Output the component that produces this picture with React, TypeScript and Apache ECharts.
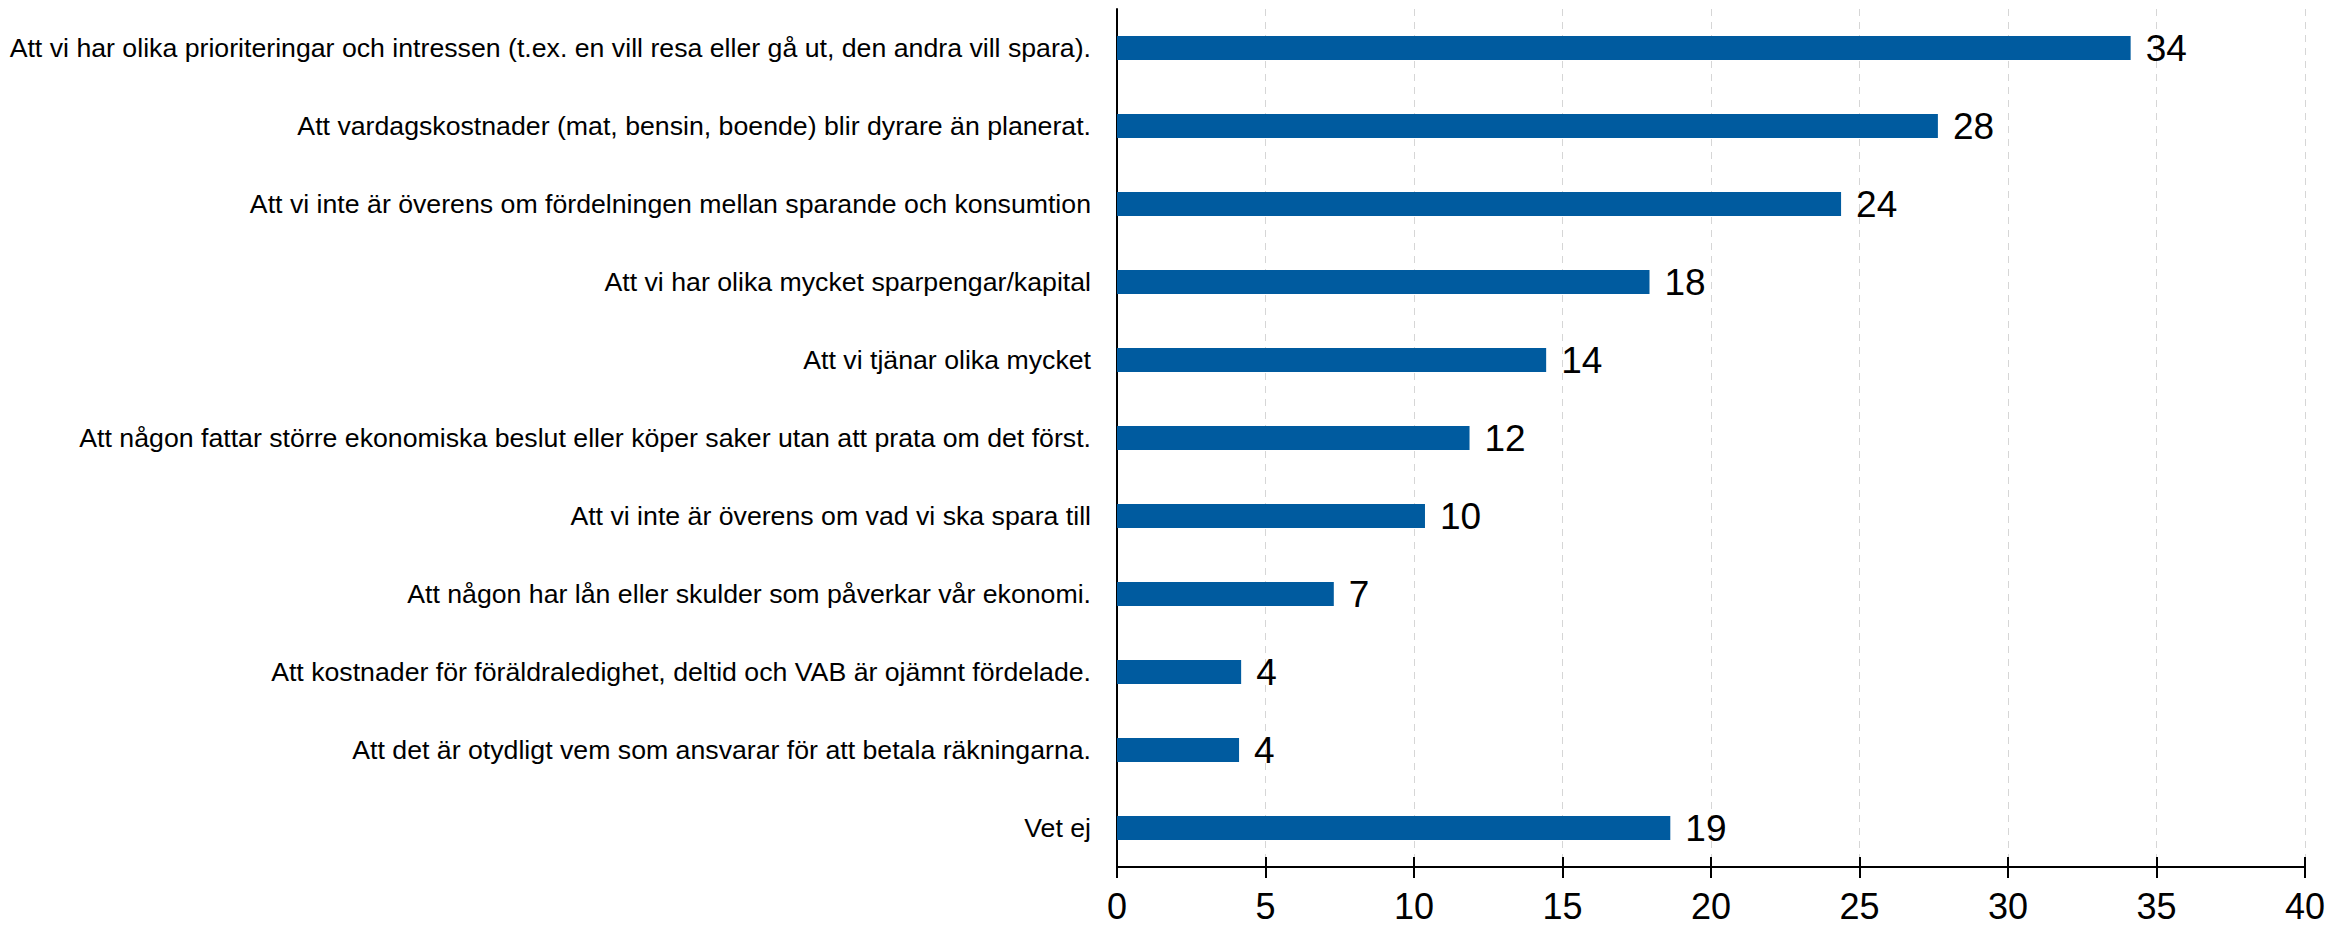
import React, { useEffect, useRef } from "react";
import * as echarts from "echarts";

const categories: string[] = [
  "Att vi har olika prioriteringar och intressen (t.ex. en vill resa eller gå ut, den andra vill spara).",
  "Att vardagskostnader (mat, bensin, boende) blir dyrare än planerat.",
  "Att vi inte är överens om fördelningen mellan sparande och konsumtion",
  "Att vi har olika mycket sparpengar/kapital",
  "Att vi tjänar olika mycket",
  "Att någon fattar större ekonomiska beslut eller köper saker utan att prata om det först.",
  "Att vi inte är överens om vad vi ska spara till",
  "Att någon har lån eller skulder som påverkar vår ekonomi.",
  "Att kostnader för föräldraledighet, deltid och VAB är ojämnt fördelade.",
  "Att det är otydligt vem som ansvarar för att betala räkningarna.",
  "Vet ej",
];

const values: number[] = [34.13, 27.64, 24.38, 17.93, 14.45, 11.87, 10.37, 7.3, 4.18, 4.11, 18.63];

const xTicks = { min: 0, max: 40, interval: 5 };

export default function App() {
  const ref = useRef<HTMLDivElement>(null);
  useEffect(() => {
    if (!ref.current) return;
    const chart = echarts.init(ref.current, null, { renderer: "svg" });
    const font = "'Liberation Sans', Arial, sans-serif";
    chart.setOption({
      animation: false,
      backgroundColor: "#ffffff",
      textStyle: { fontFamily: font },
      grid: { left: 1117, right: 23, top: 9, bottom: 60, containLabel: false },
      xAxis: [
        {
          type: "value",
          min: xTicks.min,
          max: xTicks.max,
          interval: xTicks.interval,
          position: "bottom",
          axisLine: { show: true, lineStyle: { color: "#000", width: 2 } },
          axisTick: { show: true, inside: false, length: 11, lineStyle: { color: "#000", width: 2 } },
          axisLabel: { color: "#000", fontSize: 36, lineHeight: 28, fontFamily: font, margin: 25 },
          splitLine: { show: true, lineStyle: { color: "#d6d6d6", width: 1, type: [7, 6] } },
        },
        {
          type: "value",
          min: xTicks.min,
          max: xTicks.max,
          interval: xTicks.interval,
          position: "bottom",
          axisLine: { show: false },
          axisTick: { show: true, inside: true, length: 10, lineStyle: { color: "#000", width: 2 } },
          axisLabel: { show: false },
          splitLine: { show: false },
        },
      ],
      yAxis: {
        type: "category",
        data: categories,
        inverse: true,
        axisLine: { show: true, lineStyle: { color: "#000", width: 2 } },
        axisTick: { show: false },
        axisLabel: { color: "#000", fontSize: 26.7, fontFamily: font, margin: 26 },
        splitLine: { show: false },
      },
      series: [
        {
          type: "bar",
          xAxisIndex: 0,
          data: values,
          barWidth: 24,
          itemStyle: { color: "#005B9F" },
          label: {
            show: true,
            position: "right",
            distance: 15,
            color: "#000",
            fontSize: 37,
            fontFamily: font,
            formatter: (p: any) => String(Math.round(p.value)),
          },
        },
      ],
    });
    return () => chart.dispose();
  }, []);
  return (
    <div
      ref={ref}
      style={{ position: "fixed", left: 0, top: 0, width: 2328, height: 927, background: "#fff" }}
    />
  );
}
